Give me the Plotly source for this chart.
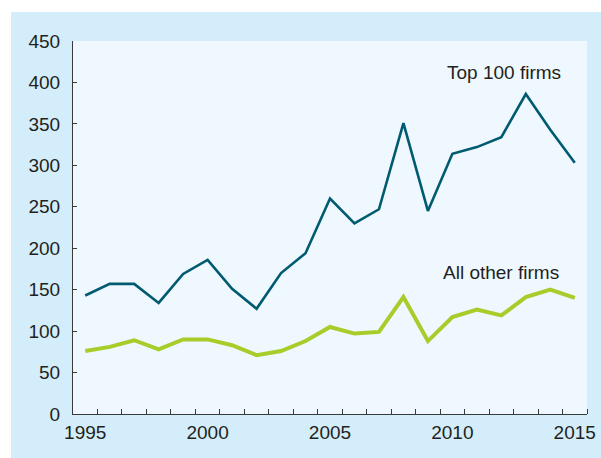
import plotly.graph_objects as go

years = list(range(1995, 2016))
top100 = [143, 157, 157, 134, 169, 186, 151, 127, 170, 194, 260, 230, 247, 351, 245, 314, 322, 334, 386, 343, 303]
others = [76, 81, 89, 78, 90, 90, 83, 71, 76, 88, 105, 97, 99, 141, 88, 117, 126, 119, 141, 150, 140]
xtick_vals = [1995, 2000, 2005, 2010, 2015]
ytick_vals = [0, 50, 100, 150, 200, 250, 300, 350, 400, 450]
labels = ["Top 100 firms", "All other firms"]

TEAL = "#005a70"
GREEN = "#a8cc2a"
TXT = "#231f20"
AX = "#3a3a3a"
FONT = "Liberation Sans, Arial"

fig = go.Figure()
fig.add_trace(go.Scatter(x=years, y=top100, mode="lines", line=dict(color=TEAL, width=2.6), name=labels[0]))
fig.add_trace(go.Scatter(x=years, y=others, mode="lines", line=dict(color=GREEN, width=4), name=labels[1]))

fig.add_annotation(x=2012.1, y=412, text=labels[0], showarrow=False, font=dict(size=19, color=TXT, family=FONT))
fig.add_annotation(x=2012.0, y=171, text=labels[1], showarrow=False, font=dict(size=19, color=TXT, family=FONT))

W, H = 601, 458
L, R, T, B = 73, 14, 41, 44
pw, ph = W - L - R, H - T - B
# white strips at top and left (outside the blue panel)
fig.add_shape(type="rect", xref="paper", yref="paper", layer="below",
              x0=-L / pw - 0.01, x1=(11 - L) / pw, y0=-B / ph - 0.01, y1=(H - B) / ph + 0.01,
              fillcolor="white", line=dict(width=0))
fig.add_shape(type="rect", xref="paper", yref="paper", layer="below",
              x0=-L / pw - 0.01, x1=(W - L) / pw + 0.01, y0=(H - B - 12) / ph, y1=(H - B) / ph + 0.01,
              fillcolor="white", line=dict(width=0))

fig.update_layout(
    width=W, height=H,
    margin=dict(l=L, r=R, t=T, b=B, autoexpand=False),
    paper_bgcolor="#d4edfa",
    plot_bgcolor="#eef8fe",
    showlegend=False,
    font=dict(family=FONT, size=19, color=TXT),
)
fig.update_xaxes(
    range=[1994.5, 2015.5], tickvals=xtick_vals, ticks="", showgrid=False, zeroline=False,
    showline=True, linecolor=AX, linewidth=1, automargin=False,
    minor=dict(tickvals=[y + 0.5 for y in years], ticks="inside", ticklen=5, tickcolor=AX, tickwidth=1, showgrid=False),
    tickfont=dict(size=19, color=TXT), ticklabelstandoff=1,
)
fig.update_yaxes(
    range=[0, 450], tickvals=ytick_vals, ticks="inside", ticklen=4, tickcolor=AX, tickwidth=1,
    showgrid=False, zeroline=False, showline=True, linecolor=AX, linewidth=1, automargin=False,
    tickfont=dict(size=19, color=TXT), ticklabelstandoff=8,
)

fig.write_html("out.html", config={"displayModeBar": False},
               post_script="document.body.style.margin='0';document.body.style.overflow='hidden';")
